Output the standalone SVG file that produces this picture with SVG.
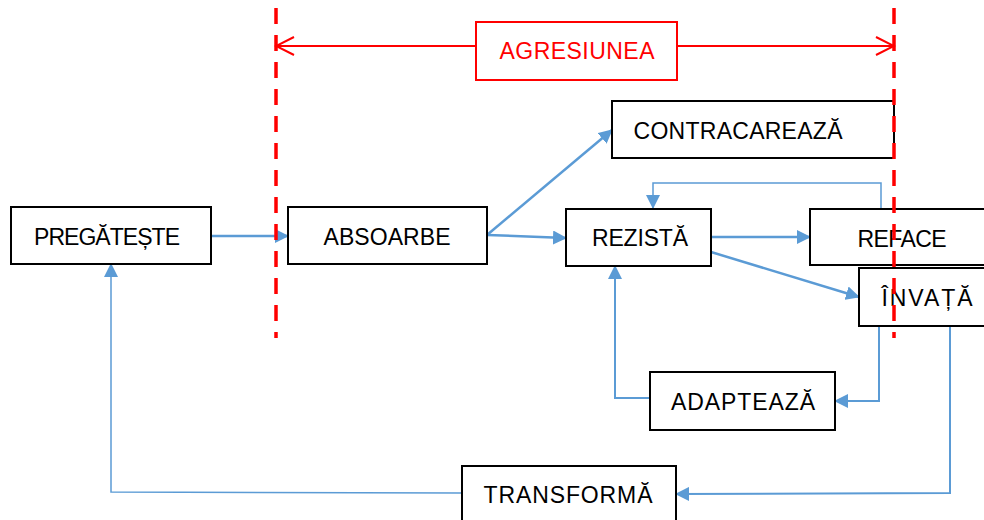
<svg xmlns="http://www.w3.org/2000/svg" width="984" height="520" viewBox="0 0 984 520">
<style>
.box{fill:#fff;stroke:#000;stroke-width:2}
.lbl{font-family:"Liberation Sans",Arial,sans-serif;font-size:23px;fill:#000;text-anchor:middle}
.red{fill:#fff;stroke:#f00;stroke-width:2}
.redt{font-family:"Liberation Sans",Arial,sans-serif;font-size:23px;fill:#f00;text-anchor:middle}
.c{fill:none;stroke:#5b9bd5;stroke-width:2.5}
.t{fill:none;stroke:#5b9bd5;stroke-width:1.5}
.m{fill:none;stroke:#5b9bd5;stroke-width:2}
.dash{stroke:#f00;stroke-width:3.5;stroke-dasharray:16 11}
</style>
<defs>
<marker id="ab" viewBox="0 0 14 14" refX="13" refY="7" markerWidth="14" markerHeight="14" markerUnits="userSpaceOnUse" orient="auto">
<path d="M0,0 L14,7 L0,14 z" fill="#5b9bd5"/>
</marker>
<marker id="ar" viewBox="0 0 22 22" refX="20" refY="11" markerWidth="22" markerHeight="22" markerUnits="userSpaceOnUse" orient="auto-start-reverse">
<path d="M2,2 L20,11 L2,20" fill="none" stroke="#f00" stroke-width="2"/>
</marker>
</defs>
<rect width="984" height="520" fill="#fff"/>
<g id="connectors">
<path class="c" d="M211,236 L288,236" marker-end="url(#ab)"/>
<path class="c" d="M487,235 L566,238" marker-end="url(#ab)"/>
<path class="c" d="M487,235 L612,130" marker-end="url(#ab)"/>
<path class="c" d="M711,237 L810,237" marker-end="url(#ab)"/>
<path class="c" d="M711,252 L859,297" marker-end="url(#ab)"/>
<path class="t" d="M881,208 L881,183 L653,183 L653,208" marker-end="url(#ab)"/>
<path class="m" d="M879,326 L879,401 L835,401" marker-end="url(#ab)"/>
<path class="m" d="M650,398 L615,398 L615,266" marker-end="url(#ab)"/>
<path class="m" d="M950,326 L950,493 L676,494" marker-end="url(#ab)"/>
<path class="t" d="M462,493 L111,492 L111,264" marker-end="url(#ab)"/>
<path d="M276,46 L894,46" stroke="#f00" stroke-width="2" fill="none" marker-start="url(#ar)" marker-end="url(#ar)"/>
</g>
<g id="agresiunea">
<rect class="red" x="476" y="22" width="201" height="58"/>
<text class="redt" x="577" y="59" textLength="155">AGRESIUNEA</text>
</g>
<g id="pregateste">
<rect class="box" x="11" y="207" width="200" height="57"/>
<text class="lbl" x="107" y="245" textLength="146">PREGĂTEȘTE</text>
</g>
<g id="absoarbe">
<rect class="box" x="288" y="207" width="199" height="57"/>
<text class="lbl" x="387" y="245" textLength="127">ABSOARBE</text>
</g>
<g id="contracareaza">
<rect class="box" x="612" y="101" width="282" height="57"/>
<text class="lbl" x="738" y="139" textLength="209">CONTRACAREAZĂ</text>
</g>
<g id="rezista">
<rect class="box" x="566" y="209" width="145" height="57"/>
<text class="lbl" x="640" y="246" textLength="96">REZISTĂ</text>
</g>
<g id="reface">
<rect class="box" x="810" y="209" width="190" height="56"/>
<text class="lbl" x="902" y="247" textLength="89">REFACE</text>
</g>
<g id="invata">
<rect class="box" x="859" y="268" width="140" height="58"/>
<text class="lbl" x="927" y="306" textLength="91">ÎNVAȚĂ</text>
</g>
<g id="adapteaza">
<rect class="box" x="650" y="372" width="185" height="58"/>
<text class="lbl" x="743" y="410" textLength="144">ADAPTEAZĂ</text>
</g>
<g id="transforma">
<rect class="box" x="462" y="466" width="214" height="60"/>
<text class="lbl" x="568" y="503" textLength="169">TRANSFORMĂ</text>
</g>
<g id="boundaries">
<line class="dash" x1="276" y1="8" x2="276" y2="338"/>
<line class="dash" x1="894" y1="8" x2="894" y2="338"/>
</g>
</svg>
